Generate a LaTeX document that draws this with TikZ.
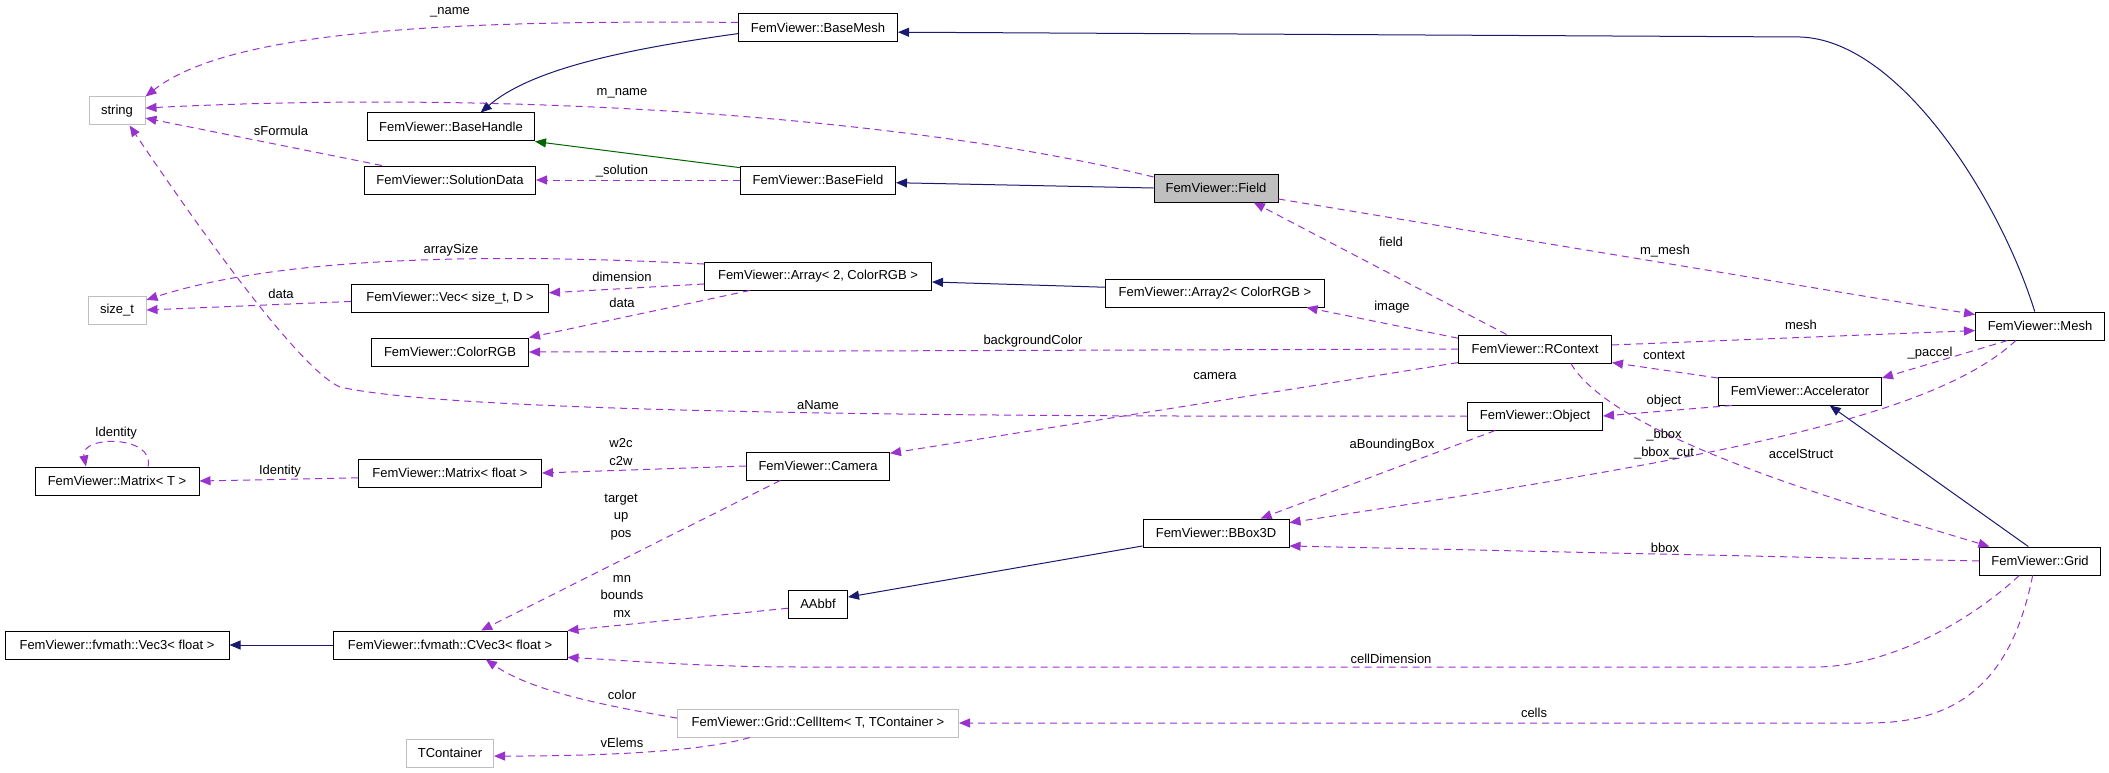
\documentclass[tikz,border=0pt]{standalone}
\usepackage{fontspec}
\setmainfont{Liberation Sans}
\usetikzlibrary{arrows.meta}

\definecolor{usecol}{HTML}{9A32CD}
\definecolor{inhcol}{HTML}{191970}
\definecolor{pubcol}{HTML}{006400}
\definecolor{undoc}{HTML}{BFBFBF}

\begin{document}
\begin{tikzpicture}[x=1pt, y=-1pt,
    every node/.style={font=\fontsize{13}{17.5}\selectfont},
    cls/.style={draw=black, line width=1pt, minimum height=28, inner xsep=2, inner ysep=0},
    ext/.style={cls, draw=undoc},
    uses/.style={draw=usecol, line width=1pt, dash pattern=on 7pt off 5pt, -{Triangle[length=11pt,width=9pt]}},
    inh/.style={draw=inhcol, line width=1pt, -{Triangle[length=11pt,width=9pt]}},
    lbl/.style={inner sep=0, align=center}]
    \useasboundingbox (0,0) rectangle (2109,773);

    % classes
    \node[ext, minimum width=56] (string) at (117,111) {string};
    \node[ext, minimum width=58] (sizet) at (117,310) {size\_t};
    \node[cls, minimum width=164] (matrixt) at (117,481) {FemViewer::Matrix< T >};
    \node[cls, minimum width=224] (vecthree) at (117,645) {FemViewer::fvmath::Vec3< float >};

    \node[cls, minimum width=167] (basehandle) at (451,127) {FemViewer::BaseHandle};
    \node[cls, minimum width=171] (solutiondata) at (450,180) {FemViewer::SolutionData};
    \node[cls, minimum width=197] (vecsize) at (450,298) {FemViewer::Vec< size\_t, D >};
    \node[cls, minimum width=157] (colorrgb) at (450,352) {FemViewer::ColorRGB};
    \node[cls, minimum width=183] (matrixf) at (450,473) {FemViewer::Matrix< float >};
    \node[cls, minimum width=234] (cvecthree) at (450,645) {FemViewer::fvmath::CVec3< float >};
    \node[ext, minimum width=87] (tcontainer) at (450,753) {TContainer};

    \node[cls, minimum width=159] (basemesh) at (818,28) {FemViewer::BaseMesh};
    \node[cls, minimum width=155] (basefield) at (818,180) {FemViewer::BaseField};
    \node[cls, minimum width=227] (array) at (818,276) {FemViewer::Array< 2, ColorRGB >};
    \node[cls, minimum width=143] (camera) at (818,466) {FemViewer::Camera};
    \node[cls, minimum width=59] (aabbf) at (818,604) {AAbbf};
    \node[ext, minimum width=281] (cellitem) at (818,723) {FemViewer::Grid::CellItem< T, TContainer >};

    \node[cls, fill=undoc, minimum width=124] (field) at (1216,188) {FemViewer::Field};
    \node[cls, minimum width=219] (arraytwo) at (1215,293) {FemViewer::Array2< ColorRGB >};
    \node[cls, minimum width=146] (bbox) at (1216,533) {FemViewer::BBox3D};

    \node[cls, minimum width=153] (rcontext) at (1535,349) {FemViewer::RContext};
    \node[cls, minimum width=135] (object) at (1535,416) {FemViewer::Object};
    \node[cls, minimum width=163] (accel) at (1800,391) {FemViewer::Accelerator};
    \node[cls, minimum width=129] (mesh) at (2040,326) {FemViewer::Mesh};
    \node[cls, minimum width=121] (grid) at (2040,561) {FemViewer::Grid};

    % inheritance
    \draw[inh] (mesh.110) .. controls (2000,200) and (1900,40) .. (1800,37) -- (basemesh.-3);
    \draw[inh] (basemesh.184) .. controls (620,50) and (530,70) .. (basehandle.26);
    \draw[inh, draw=pubcol] (basefield.171) -- (basehandle.south east);
    \draw[inh] (field.west) -- (basefield.-2);
    \draw[inh] (arraytwo.177) -- (array.-3);
    \draw[inh] (grid.129) -- (accel.-26);
    \draw[inh] (bbox.190) -- (aabbf.13);
    \draw[inh] (cvecthree.west) -- (vecthree.east);

    % members
    \draw[uses] (basemesh.176) .. controls (450,20) and (230,30) .. (string.north east);
    \draw[uses] (field.170) .. controls (900,115) and (500,90) .. (string.6);
    \draw[uses] (solutiondata.168) -- (string.-14);
    \draw[uses] (object.west) .. controls (700,418) and (420,405) .. (340,387)
        .. controls (300,370) and (200,230) .. (string.-49);
    \draw[uses] (basefield.west) -- (solutiondata.east);
    \draw[uses] (rcontext.153) -- (field.-21);
    \draw[uses] (field.-10) -- (mesh.170);
    \draw[uses] (array.174) .. controls (550,256) and (300,250) .. (sizet.19);
    \draw[uses] (array.184) -- (vecsize.3);
    \draw[uses] (vecsize.182) -- (sizet.east);
    \draw[uses] (array.192) -- (colorrgb.north east);
    \draw[uses] (rcontext.172) -- (arraytwo.-9);
    \draw[uses] (rcontext.west) -- (colorrgb.east);
    \draw[uses] (rcontext.190) -- (camera.10);
    \draw[uses] (rcontext.3) -- (mesh.184);
    \draw[uses] (accel.171) -- (rcontext.-10);
    \draw[uses] (mesh.204) -- (accel.9);
    \draw[uses] (accel.192) -- (object.east);
    \draw[uses] (object.200) -- (bbox.18);
    \draw[uses] (mesh.211) .. controls (1930,420) and (1700,460) .. (bbox.8);
    \draw[uses] (rcontext.-22) .. controls (1610,430) and (1800,490) .. (grid.164);
    \draw[uses] (grid.west) -- (bbox.-10);
    \draw[uses] (grid.215) .. controls (1960,630) and (1880,667) .. (1815,667) -- (800,667)
        .. controls (700,667) and (620,660) .. (cvecthree.-6);
    \draw[uses] (grid.243) .. controls (2010,690) and (1950,723) .. (1868,723) -- (cellitem.east);
    \draw[uses] (camera.west) -- (matrixf.east);
    \draw[uses] (matrixf.183) -- (matrixt.east);
    \draw[uses] (matrixt.25) .. controls (155,435) and (80,435) .. (matrixt.155);
    \draw[uses] (camera.201) -- (cvecthree.25);
    \draw[uses] (aabbf.188) -- (cvecthree.north east);
    \draw[uses] (cellitem.178) .. controls (600,705) and (530,690) .. (cvecthree.-22);
    \draw[uses] (cellitem.192) .. controls (700,752) and (600,756) .. (tcontainer.-4);

    % member names
    \node[lbl] (l-name) at (450,12) {\_name};
    \node[lbl] (l-mname) at (622,93) {m\_name};
    \node[lbl] (l-sformula) at (281,131) {sFormula};
    \node[lbl] (l-solution) at (622,171) {\_solution};
    \node[lbl] (l-arraysize) at (451,250) {arraySize};
    \node[lbl] (l-dimension) at (622,277) {dimension};
    \node[lbl] (l-data) at (281,294) {data};
    \node[lbl] (l-datab) at (622,303) {data};
    \node[lbl] (l-identself) at (116,433) {Identity};
    \node[lbl] (l-ident) at (280,471) {Identity};
    \node[lbl] (l-w2c) at (621,452) {w2c\\c2w};
    \node[lbl] (l-target) at (621,517) {target\\up\\pos};
    \node[lbl] (l-mn) at (622,596) {mn\\bounds\\mx};
    \node[lbl] (l-color) at (622,695) {color};
    \node[lbl] (l-velems) at (622,743) {vElems};
    \node[lbl] (l-bgcolor) at (1033,341) {backgroundColor};
    \node[lbl] (l-camera) at (1215,376) {camera};
    \node[lbl] (l-aname) at (818,405) {aName};
    \node[lbl] (l-image) at (1392,307) {image};
    \node[lbl] (l-field) at (1391,242) {field};
    \node[lbl] (l-mmesh) at (1665,251) {m\_mesh};
    \node[lbl] (l-mesh) at (1801,325) {mesh};
    \node[lbl] (l-context) at (1664,355) {context};
    \node[lbl] (l-object) at (1664,401) {object};
    \node[lbl] (l-bbox) at (1664,444) {\_bbox\\\_bbox\_cut};
    \node[lbl] (l-accel) at (1801,454) {accelStruct};
    \node[lbl] (l-gbbox) at (1665,548) {bbox};
    \node[lbl] (l-abbox) at (1392,445) {aBoundingBox};
    \node[lbl] (l-paccel) at (1930,353) {\_paccel};
    \node[lbl] (l-celldim) at (1391,659) {cellDimension};
    \node[lbl] (l-cells) at (1534,713) {cells};
\end{tikzpicture}
\end{document}
